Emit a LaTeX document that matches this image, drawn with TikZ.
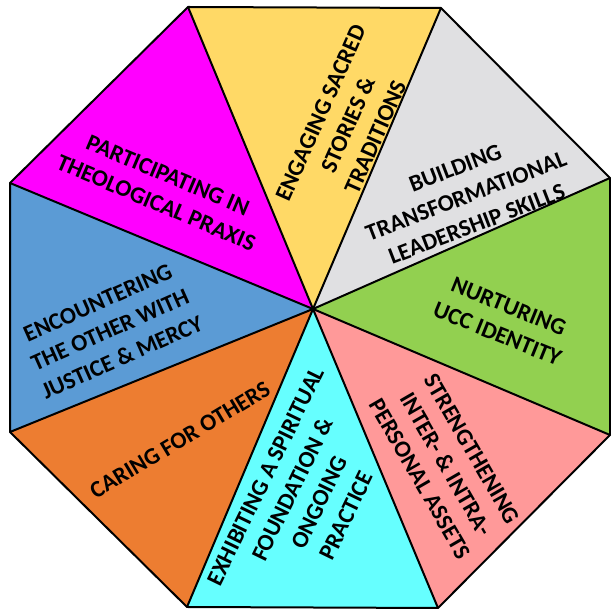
\documentclass[tikz,border=0pt]{standalone}
\usepackage{fontspec}
\setmainfont{Carlito}
\definecolor{cyel}{HTML}{FFD966}
\definecolor{cgray}{HTML}{E0E0E2}
\definecolor{cgreen}{HTML}{92D050}
\definecolor{cpink}{HTML}{FF9999}
\definecolor{ccyan}{HTML}{66FFFF}
\definecolor{corange}{HTML}{ED7D31}
\definecolor{cblue}{HTML}{5B9BD5}
\definecolor{cmag}{HTML}{FF00FF}
\begin{document}
\begin{tikzpicture}[x=1pt,y=1pt,
  wedge/.style={draw=black,line width=2pt,line join=round},
  lbl/.style={font=\fontsize{23.6}{30}\selectfont\bfseries,align=center,text=black,inner sep=0pt}]
\useasboundingbox (0,0) rectangle (611,610);
\coordinate (C) at (313,301);
\coordinate (V1) at (188,603);
\coordinate (V2) at (441,602);
\coordinate (V3) at (610,432);
\coordinate (V4) at (610,175);
\coordinate (V5) at (438,2);
\coordinate (V6) at (187,3);
\coordinate (V7) at (10,178);
\coordinate (V8) at (10,427);
\fill[cyel] (C) -- (V1) -- (V2) -- cycle;
\fill[cgray] (C) -- (V2) -- (V3) -- cycle;
\fill[cgreen] (C) -- (V3) -- (V4) -- cycle;
\fill[cpink] (C) -- (V4) -- (V5) -- cycle;
\fill[ccyan] (C) -- (V5) -- (V6) -- cycle;
\fill[corange] (C) -- (V6) -- (V7) -- cycle;
\fill[cblue] (C) -- (V7) -- (V8) -- cycle;
\fill[cmag] (C) -- (V8) -- (V1) -- cycle;
\foreach \v in {V1,V2,V3,V4,V5,V6,V7,V8} \draw[wedge] (C) -- (\v);
\draw[wedge] (V1) -- (V2) -- (V3) -- (V4) -- (V5) -- (V6) -- (V7) -- (V8) -- cycle;
\node[lbl,rotate=-23] (tmag) at (162,421) {PARTICIPATING IN\\THEOLOGICAL PRAXIS};
\node[lbl,rotate=66] (tyel) at (348,485) {ENGAGING SACRED\\STORIES \&\\TRADITIONS};
\node[lbl,rotate=21] (tgray) at (466,414) {BUILDING\\TRANSFORMATIONAL\\LEADERSHIP SKILLS};
\node[lbl,rotate=-22] (tgreen) at (503,290) {NURTURING\\UCC IDENTITY};
\node[lbl,rotate=-60] (tpink) at (446,146) {STRENGTHENING\\INTER- \& INTRA-\\PERSONAL ASSETS};
\node[lbl,rotate=64] (tcyan) at (306,114) {EXHIBITING A SPIRITUAL\\FOUNDATION \&\\ONGOING\\PRACTICE};
\node[lbl,rotate=31] (torange) at (180,170) {CARING FOR OTHERS};
\node[lbl,rotate=24] (tblue) at (110,280) {ENCOUNTERING\\THE OTHER WITH\\JUSTICE \& MERCY};
\end{tikzpicture}
\end{document}
